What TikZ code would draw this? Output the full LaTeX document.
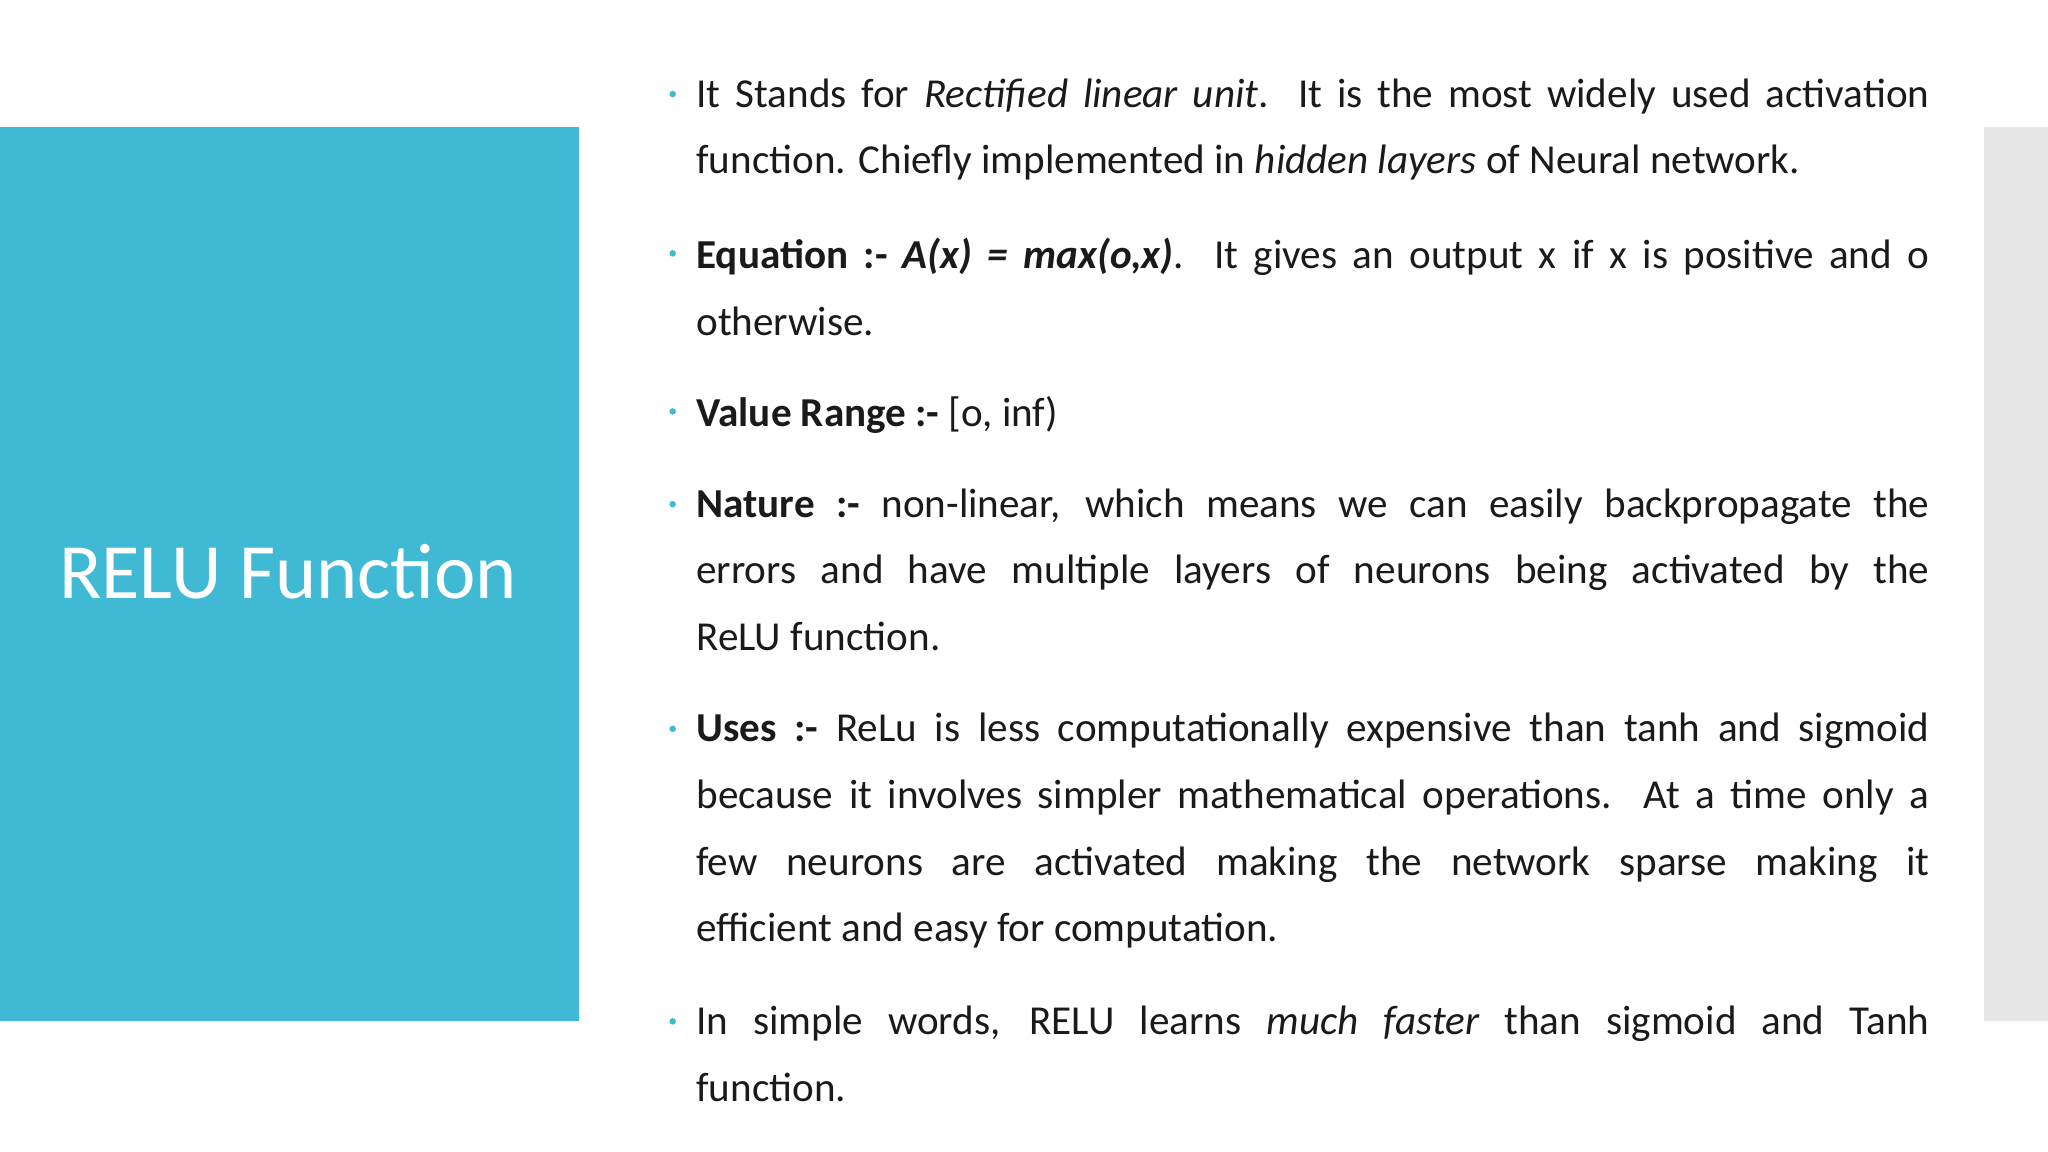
\documentclass[tikz,border=0pt]{standalone}
\usepackage{fontspec}
\setmainfont{Carlito}
\definecolor{teal1}{HTML}{40B9D4}
\definecolor{gray1}{HTML}{E6E6E6}
\definecolor{txt}{HTML}{1A1A1A}
\begin{document}
\begin{tikzpicture}[x=1pt,y=-1pt,
  para/.style={anchor=north west,inner sep=0pt,text width=944pt,align=justify,
    font=\fontsize{31.5}{51}\selectfont,text=txt},
  dot/.style={circle,fill=teal1,inner sep=0pt,minimum size=5pt}]
\useasboundingbox (0,0) rectangle (1568,882);
\fill[white] (0,0) rectangle (1568,882);
\fill[teal1] (0,97) rectangle (443,782);
\fill[gray1] (1519,97) rectangle (1568,782);
\node[anchor=base west,inner sep=0pt,text=white,font=\fontsize{60}{66}\selectfont] (title) at (45,458) {RELU Function};
\foreach \n/\y in {b1/83,b2/205,b3/326,b4/397,b5/569,b6/793}{
  \node[dot] (d\n) at (515,\y-11) {};
}
\node[para] (p1) at (533,83-23) {It Stands for \textit{Rectified linear unit}. It is the most widely used activation\linebreak function. Chiefly implemented in \textit{hidden layers} of Neural network.};
\node[para] (p2) at (533,205-23) {\textbf{Equation :- \textit{A(x) = max(o,x)}}. It gives an output x if x is positive and o\linebreak otherwise.};
\node[para] (p3) at (533,326-23) {\textbf{Value Range :-} [o, inf)};
\node[para] (p4) at (533,397-23) {\textbf{Nature :-} non-linear, which means we can easily backpropagate the\linebreak errors and have multiple layers of neurons being activated by the\linebreak ReLU function.};
\node[para] (p5) at (533,569-23) {\textbf{Uses :-} ReLu is less computationally expensive than tanh and sigmoid\linebreak because it involves simpler mathematical operations. At a time only a\linebreak few neurons are activated making the network sparse making it\linebreak efficient and easy for computation.};
\node[para] (p6) at (533,793-23) {In simple words, RELU learns \textit{much faster} than sigmoid and Tanh\linebreak function.};
\end{tikzpicture}
\end{document}
